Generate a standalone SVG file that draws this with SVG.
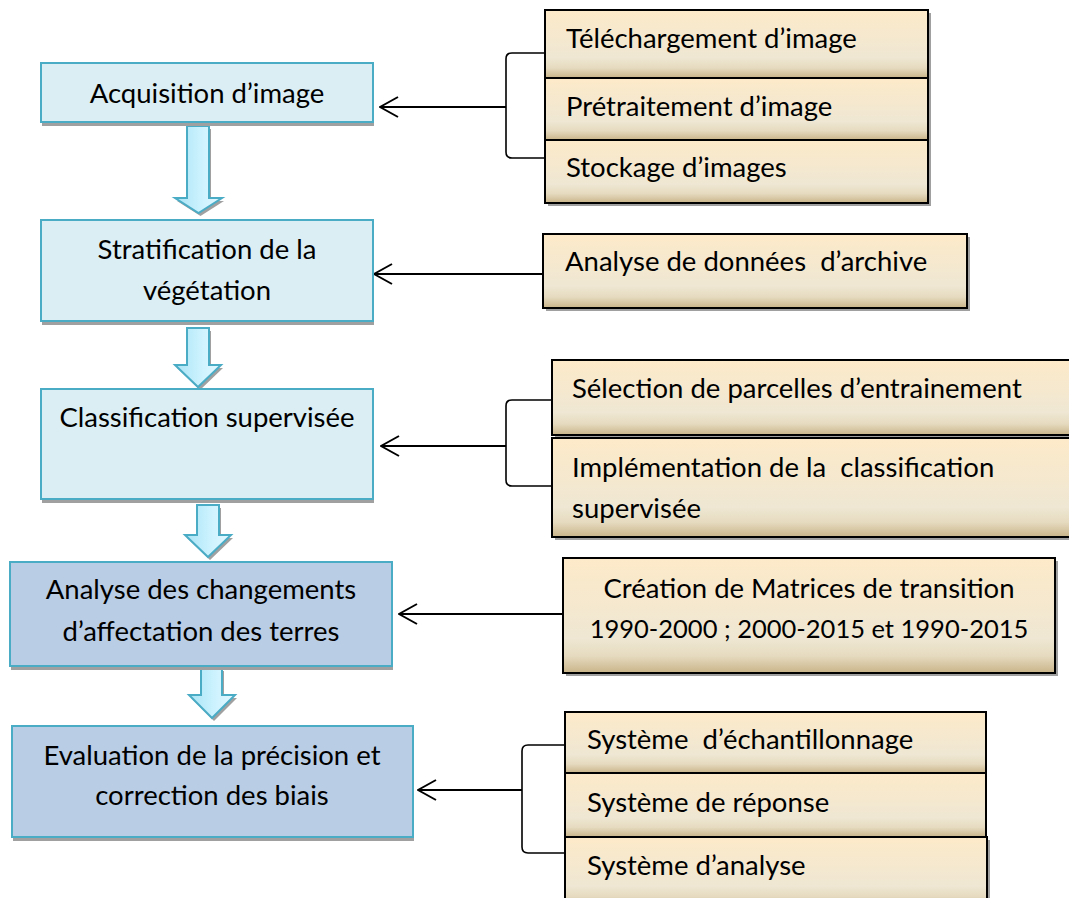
<svg xmlns="http://www.w3.org/2000/svg" width="1069" height="898" viewBox="0 0 1069 898">
<style>
.t{font-family:Lato,"Liberation Sans",sans-serif;font-size:27.5px;fill:#000;white-space:pre}
.c{text-anchor:middle}
.lb{fill:#DBEEF4;stroke:#4BACC6;stroke-width:2}
.db{fill:#B9CDE5;stroke:#4BACC6;stroke-width:2}
.sh{fill:#A0A0A0}
.tan{fill:url(#tanG);stroke:#000;stroke-width:2}
.ba{fill:url(#cyanG);stroke:#4BACC6;stroke-width:2}
.ln{fill:none;stroke:#000;stroke-width:2}
.br{fill:none;stroke:#000;stroke-width:1.6}
</style>
<defs>
<linearGradient id="tanG" x1="0" y1="0" x2="0" y2="1">
<stop offset="0" stop-color="#FDEAC9"/>
<stop offset="0.7" stop-color="#EFE7D3"/>
<stop offset="0.85" stop-color="#E6DBC0"/>
<stop offset="1" stop-color="#C9B489"/>
</linearGradient>
<linearGradient id="cyanG" x1="0" y1="0" x2="1" y2="0">
<stop offset="0" stop-color="#A9E4F5"/>
<stop offset="0.6" stop-color="#CFF3FF"/>
<stop offset="1" stop-color="#E4F8FF"/>
</linearGradient>
<marker id="open" viewBox="0 0 20 24" refX="19" refY="12" markerWidth="20" markerHeight="24" markerUnits="userSpaceOnUse" orient="auto">
<path d="M1,2 L19,12 L1,22" fill="none" stroke="#000" stroke-width="2"/>
</marker>
</defs>

<g id="connectors">
<line class="ln" x1="506" y1="107" x2="380" y2="107" marker-end="url(#open)"/>
<path class="br" d="M545,53 H512 Q506,53 506,59 V152 Q506,158 512,158 H545"/>
<line class="ln" x1="543" y1="274" x2="374" y2="274" marker-end="url(#open)"/>
<line class="ln" x1="506" y1="446" x2="381" y2="446" marker-end="url(#open)"/>
<path class="br" d="M552,400 H512 Q506,400 506,406 V480 Q506,486 512,486 H552"/>
<line class="ln" x1="563" y1="614" x2="399" y2="614" marker-end="url(#open)"/>
<line class="ln" x1="522" y1="790" x2="418" y2="790" marker-end="url(#open)"/>
<path class="br" d="M565,745 H528 Q522,745 522,751 V847 Q522,853 528,853 H565"/>
</g>

<g id="flow-arrows">
<path class="sh" transform="translate(2,3)" d="M187,126 H209 V198 H222 L198.5,213 L175,198 H187 Z"/>
<path class="ba" d="M187,126 H209 V198 H222 L198.5,213 L175,198 H187 Z"/>
<path class="sh" transform="translate(2,3)" d="M187,328 H209 V365 H221 L198,387 L175,365 H187 Z"/>
<path class="ba" d="M187,328 H209 V365 H221 L198,387 L175,365 H187 Z"/>
<path class="sh" transform="translate(2,3)" d="M197,505 H219 V535 H231 L208,557 L185,535 H197 Z"/>
<path class="ba" d="M197,505 H219 V535 H231 L208,557 L185,535 H197 Z"/>
<path class="sh" transform="translate(2,3)" d="M201,668 H222 V695 H235 L212,718 L189,695 H201 Z"/>
<path class="ba" d="M201,668 H222 V695 H235 L212,718 L189,695 H201 Z"/>
</g>

<g id="n-acquisition">
<rect class="sh" x="42" y="67" width="332" height="59"/>
<rect class="lb" x="41" y="63" width="332" height="59"/>
<text class="t c" x="207" y="103">Acquisition d’image</text>
</g>
<g id="n-stratification">
<rect class="sh" x="42" y="224" width="332" height="101"/>
<rect class="lb" x="41" y="220" width="332" height="101"/>
<text class="t c" x="207" y="259">Stratification de la</text>
<text class="t c" x="207" y="300">végétation</text>
</g>
<g id="n-classification">
<rect class="sh" x="42" y="393" width="332" height="110"/>
<rect class="lb" x="41" y="389" width="332" height="110"/>
<text class="t c" x="207" y="427">Classification supervisée</text>
</g>
<g id="n-analyse">
<rect class="sh" x="11" y="566" width="382" height="104"/>
<rect class="db" x="10" y="562" width="382" height="104"/>
<text class="t c" x="201" y="599">Analyse des changements</text>
<text class="t c" x="201" y="641">d’affectation des terres</text>
</g>
<g id="n-evaluation">
<rect class="sh" x="13" y="730" width="401" height="111"/>
<rect class="db" x="12" y="726" width="401" height="111"/>
<text class="t c" x="212" y="765">Evaluation de la précision et</text>
<text class="t c" x="212" y="805">correction des biais</text>
</g>

<g id="n-telechargement">
<rect class="sh" x="548" y="13" width="383" height="193"/>
<rect class="tan" x="545" y="10" width="383" height="68"/>
<text class="t" x="566" y="48">Téléchargement d’image</text>
</g>
<g id="n-pretraitement">
<rect class="tan" x="545" y="78" width="383" height="62"/>
<text class="t" x="566" y="116">Prétraitement d’image</text>
</g>
<g id="n-stockage">
<rect class="tan" x="545" y="140" width="383" height="63"/>
<text class="t" x="566" y="177">Stockage d’images</text>
</g>

<g id="n-archive">
<rect class="sh" x="546" y="237" width="424" height="74"/>
<rect class="tan" x="543" y="234" width="424" height="74"/>
<text class="t" x="565" y="271">Analyse de données  d’archive</text>
</g>

<g id="n-selection">
<rect class="sh" x="555" y="363" width="530" height="75"/>
<rect class="tan" x="552" y="360" width="530" height="75"/>
<text class="t" x="572" y="398">Sélection de parcelles d’entrainement</text>
</g>
<g id="n-implementation">
<rect class="sh" x="555" y="441" width="530" height="99"/>
<rect class="tan" x="552" y="438" width="530" height="99"/>
<text class="t" x="572" y="477">Implémentation de la  classification</text>
<text class="t" x="572" y="518">supervisée</text>
</g>

<g id="n-matrices">
<rect class="sh" x="566" y="561" width="492" height="115"/>
<rect class="tan" x="563" y="558" width="492" height="115"/>
<text class="t c" x="809" y="598">Création de Matrices de transition</text>
<text class="t c" x="809" y="638" style="font-size:25.5px">1990-2000 ; 2000-2015 et 1990-2015</text>
</g>

<g id="n-echantillonnage">
<rect class="tan" x="565" y="712" width="421" height="61"/>
<text class="t" x="587" y="749">Système  d’échantillonnage</text>
</g>
<g id="n-reponse">
<rect class="tan" x="565" y="773" width="421" height="64"/>
<text class="t" x="587" y="812">Système de réponse</text>
</g>
<g id="n-systeme-analyse">
<rect class="sh" x="568" y="840" width="422" height="70"/>
<rect class="tan" x="565" y="837" width="422" height="70"/>
<text class="t" x="587" y="875">Système d’analyse</text>
</g>
</svg>
